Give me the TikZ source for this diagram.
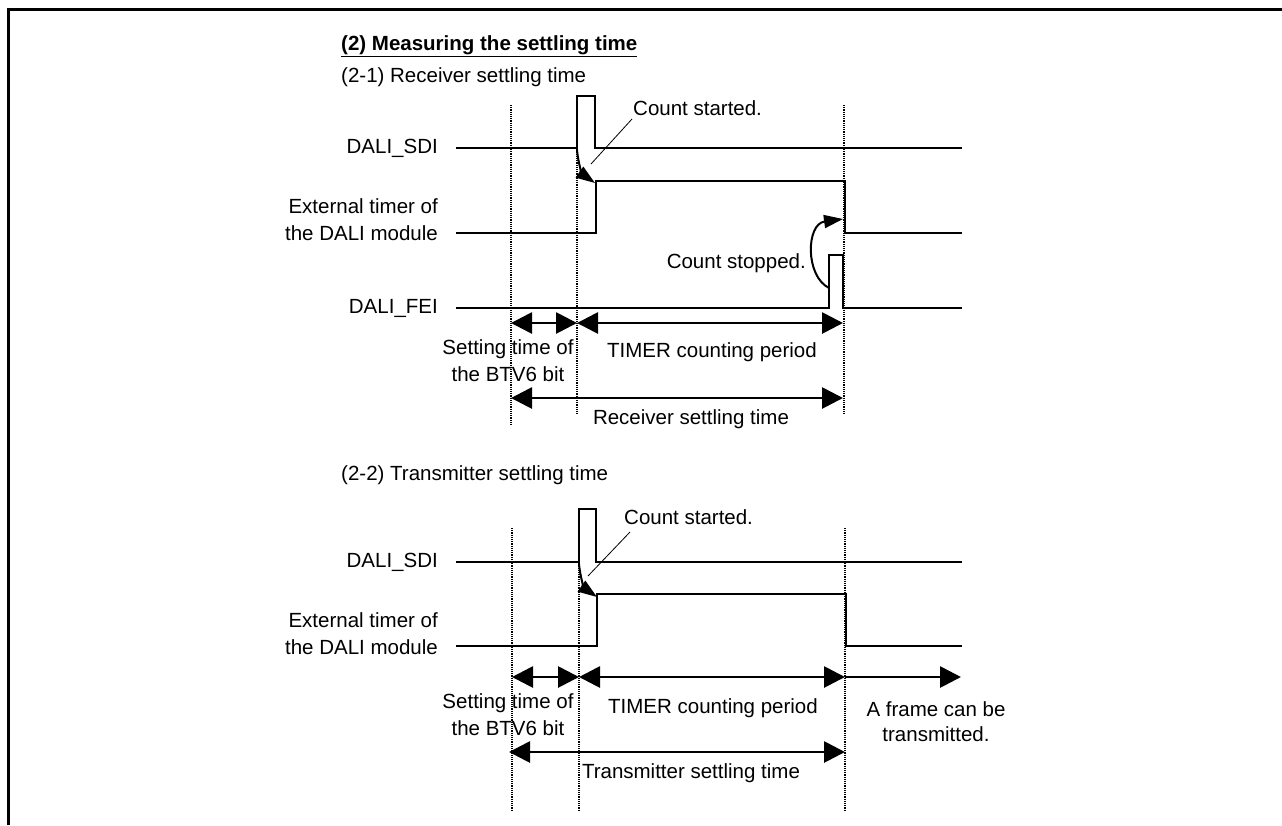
\documentclass[tikz,border=0pt]{standalone}
\usepackage{fontspec}
\setmainfont{Liberation Sans}
\usetikzlibrary{arrows.meta}

\begin{document}
\begin{tikzpicture}[x=1pt, y=-1pt,
            sig/.style={line width=2.8pt},
            vline/.style={line width=1.1pt, dash pattern=on 1.1pt off 1.1pt},
            span/.style={line width=2.8pt, {Triangle[length=21pt,width=21pt]}-{Triangle[length=21pt,width=21pt]}},
            ray/.style={line width=2.8pt, -{Triangle[length=21pt,width=21pt]}},
            curvearr/.style={line width=2pt, -{Triangle[length=19pt,width=13pt]}},
            lbl/.style={font=\fontsize{20.5}{27}\selectfont, inner sep=0pt}]
            \useasboundingbox (0,0) rectangle (1282,825);
            \draw[line width=3.3pt] (8.5,825) -- (8.5,9.5) -- (1282,9.5);
            % headings
            \node[lbl, anchor=west, font=\fontsize{20.5}{27}\selectfont\bfseries] (title) at (341,46) {\underline{(2) Measuring the settling time}};
            \node[lbl, anchor=west] (rxhead) at (341,77) {(2-1) Receiver settling time};
            \node[lbl, anchor=west] (txhead) at (341,475) {(2-2) Transmitter settling time};
            %% (2-1) receiver
            \coordinate (rA) at (511,323); \coordinate (rB) at (577,323); \coordinate (rC) at (843,323);
            \coordinate (rA2) at (511,398); \coordinate (rC2) at (843,398);
            \draw[vline] (511,105) -- (511,426);
            \draw[vline] (577,103) -- (577,415);
            \draw[vline] (844,105) -- (844,415);
            \node[lbl, anchor=east] (rsdi) at (438,148) {DALI\_SDI};
            \node[lbl, anchor=east, align=right] (rtmr) at (438,220) {External timer of\\the DALI module};
            \node[lbl, anchor=east] (rfei) at (438,308) {DALI\_FEI};
            \draw[sig] (456,148) -| (577,96) -| (595,148) -- (962,148);
            \draw[sig] (456,233) -| (596,181) -| (845,233) -- (962,233);
            \draw[sig] (456,308) -| (829,255) -| (843,308) -- (962,308);
            \node[lbl, anchor=west] (rstart) at (633,108) {Count started.};
            \draw[line width=0.8pt] (632,119) -- (591,164);
            \draw[curvearr] (577,150) to[out=-85,in=145] (595,183);
            \node[lbl, anchor=east] (rstop) at (806,263) {Count stopped.};
            \draw[curvearr] (829,288) .. controls (805,276) and (806,224) .. (843,219);
            \draw[span] (rA) -- (rB);
            \draw[span] (rB) -- (rC);
            \draw[span] (rA2) -- (rC2);
            \node[lbl, align=center] (rbtv) at (508,361) {Setting time of\\the BTV6 bit};
            \node[lbl] (rtimer) at (712,352) {TIMER counting period};
            \node[lbl] (rsettle) at (691,419) {Receiver settling time};
            %% (2-2) transmitter
            \coordinate (tA) at (512,677); \coordinate (tB) at (579,677); \coordinate (tC) at (845,677);
            \coordinate (tD) at (961,677);
            \coordinate (tA2) at (509,752); \coordinate (tC2) at (845,752);
            \draw[vline] (512,528) -- (512,810);
            \draw[vline] (579,517) -- (579,810);
            \draw[vline] (845,528) -- (845,810);
            \node[lbl, anchor=east] (tsdi) at (438,562) {DALI\_SDI};
            \node[lbl, anchor=east, align=right] (ttmr) at (438,634) {External timer of\\the DALI module};
            \draw[sig] (456,562) -| (579,509) -| (596,562) -- (962,562);
            \draw[sig] (456,646) -| (597,594) -| (846,646) -- (962,646);
            \node[lbl, anchor=west] (tstart) at (624,517) {Count started.};
            \draw[line width=0.8pt] (630,532) -- (588,576);
            \draw[curvearr] (579,564) to[out=-85,in=145] (597,597);
            \draw[span] (tA) -- (tB);
            \draw[span] (tB) -- (tC);
            \draw[ray] (tC) -- (tD);
            \draw[span] (tA2) -- (tC2);
            \node[lbl, align=center] (tbtv) at (508,715) {Setting time of\\the BTV6 bit};
            \node[lbl] (ttimer) at (713,708) {TIMER counting period};
            \node[lbl, align=center, font=\fontsize{20.5}{25}\selectfont] (tframe) at (936,722) {A frame can be\\transmitted.};
            \node[lbl] (tsettle) at (691,773) {Transmitter settling time};
        \end{tikzpicture}
\end{document}
